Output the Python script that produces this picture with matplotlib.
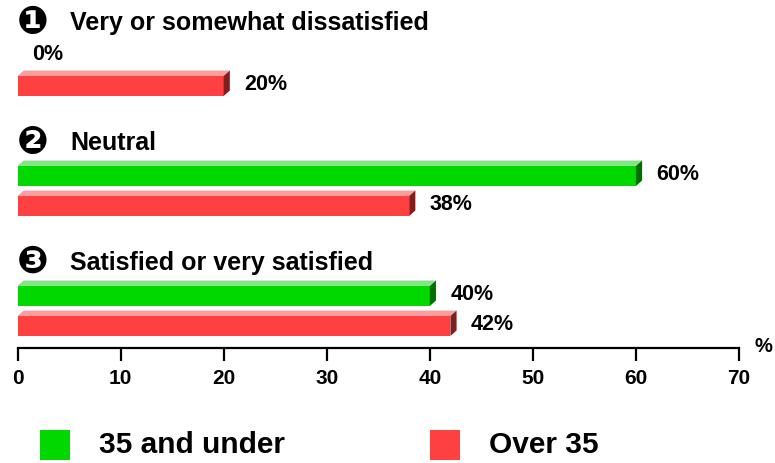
import numpy as np
import matplotlib.pyplot as plt
from matplotlib.patches import Polygon, Rectangle

# data
questions = ["Very or somewhat dissatisfied", "Neutral", "Satisfied or very satisfied"]
markers = ["\u2776", "\u2777", "\u2778"]
under35 = [0, 60, 40]
over35 = [20, 38, 42]
series_names = ["35 and under", "Over 35"]
xticks = [0, 10, 20, 30, 40, 50, 60, 70]

# style
front = {"35 and under": "#00d800", "Over 35": "#ff4040"}
top = {"35 and under": "#80e880", "Over 35": "#ff9c9c"}
side = {"35 and under": "#006e00", "Over 35": "#7f2020"}
font = ["Liberation Sans", "DejaVu Sans"]
plt.rcParams["font.family"] = font
plt.rcParams["font.weight"] = "bold"

W, H = 775, 463
fig = plt.figure(figsize=(W / 100, H / 100), dpi=100)
x0, x1, ybase = 17.5, 739, 348
ax = fig.add_axes([x0 / W, 1 - ybase / H, (x1 - x0) / W, ybase / H])
ax.set_xlim(0, 70)
ax.set_ylim(ybase, 0)  # y measured in pixels from top

# layout (pixel-like units)
spacing = 120
red_first = 86
green_off = -30
bar_h = 20
dx, dy = 0.6, 5.5

for i, q in enumerate(questions):
    red_c = red_first + i * spacing
    centers = [red_c + green_off, red_c]
    for name, vals, c in zip(series_names, [under35, over35], centers):
        v = vals[i]
        if v > 0:
            ax.barh(c, v, height=bar_h, color=front[name], linewidth=0)
            t = c - bar_h / 2
            b = c + bar_h / 2
            ax.add_patch(Polygon([(0, t), (dx, t - dy), (v + dx, t - dy), (v, t)],
                                 closed=True, color=top[name], linewidth=0))
            ax.add_patch(Polygon([(v, t), (v + dx, t - dy), (v + dx, b - dy), (v, b)],
                                 closed=True, color=side[name], linewidth=0))
        lx = v + (dx if v > 0 else 0) + 1.4
        ax.text(lx, c - 1, f"{v}%", ha="left", va="center", fontsize=15.5,
                fontweight="bold", color="black", clip_on=False)
    hy = red_c - 63
    ax.text(1.5, hy, markers[i], ha="center", va="center", fontsize=27,
            family="DejaVu Sans", color="black", clip_on=False)
    ax.text(5.1, hy, q, ha="left", va="center", fontsize=18,
            fontweight="bold", color="black", clip_on=False)

for s in ["top", "left", "right"]:
    ax.spines[s].set_visible(False)
ax.spines["bottom"].set_linewidth(1.6)
ax.set_yticks([])
ax.set_xticks(xticks)
ax.set_xticklabels([str(t) for t in xticks], fontsize=15, fontweight="bold")
ax.tick_params(axis="x", direction="out", length=9, width=1.6, pad=6)
ax.text(71.5, 347, "%", ha="left", va="center", fontsize=14.5, fontweight="bold",
        clip_on=False)

# legend
leg_x = [40, 430]
for name, lxp in zip(series_names, leg_x):
    fig.add_artist(Rectangle((lxp / W, 1 - 460 / H), 30 / W, 30 / H,
                             transform=fig.transFigure, color=front[name],
                             linewidth=0))
    fig.text((lxp + 59) / W, 1 - 445 / H, name, ha="left", va="center",
             fontsize=21.5, fontweight="bold")

fig.savefig("out.png", dpi=100)
